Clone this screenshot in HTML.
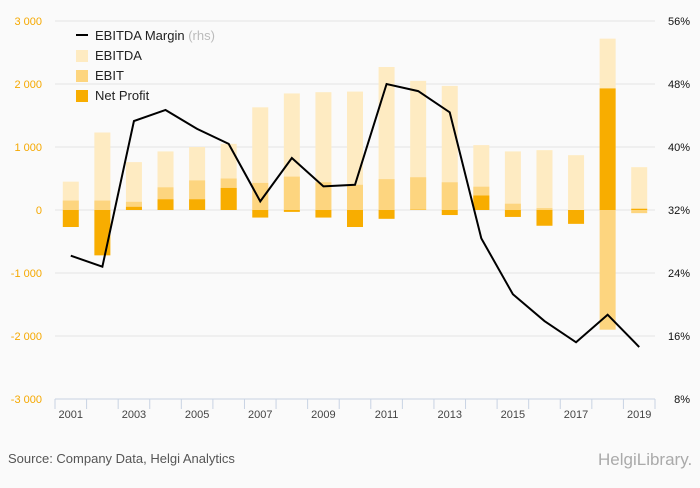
<!DOCTYPE html>
<html><head><meta charset="utf-8"><style>
body{margin:0;width:700px;height:483px;background:#fafafa;font-family:"Liberation Sans",sans-serif;overflow:hidden}
svg text{font-family:"Liberation Sans",sans-serif}
</style></head><body>
<svg id="chart" width="700" height="483" xmlns="http://www.w3.org/2000/svg">
<rect width="700" height="483" fill="#fafafa"/>
<g id="grid"></g><g id="bars"></g><g id="line"></g><g id="axes"></g>
<g font-size="13" fill="#222">
<line x1="76" y1="35" x2="88" y2="35" stroke="#000" stroke-width="2"/>
<text x="95" y="40">EBITDA Margin <tspan fill="#bbb">(rhs)</tspan></text>
<rect x="76" y="50" width="12" height="12" fill="#feebc2"/><text x="95" y="60">EBITDA</text>
<rect x="76" y="70" width="12" height="12" fill="#fdd57f"/><text x="95" y="80">EBIT</text>
<rect x="76" y="90" width="12" height="12" fill="#f8ad00"/><text x="95" y="100">Net Profit</text>
</g>
<text x="8" y="463" font-size="13" fill="#555">Source: Company Data, Helgi Analytics</text>
<text x="598" y="465" font-size="17" fill="#aaa" font-family="Liberation Serif">HelgiLibrary.</text>
</svg>
<script>
const years=[2001,2002,2003,2004,2005,2006,2007,2008,2009,2010,2011,2012,2013,2014,2015,2016,2017,2018,2019];
const ebitda=[450,1230,760,930,1000,1050,1630,1850,1870,1880,2270,2050,1970,1030,930,950,870,2720,680];
const ebit=[150,150,130,360,470,500,430,530,440,400,490,520,440,370,100,30,-20,-1900,-50];
const netProfit=[-270,-720,50,170,170,350,-120,-30,-120,-270,-140,5,-80,230,-110,-250,-220,1930,20];
const margin=[26.2,24.8,43.3,44.7,42.3,40.4,33.1,38.6,35.0,35.2,48.0,47.1,44.4,28.4,21.3,17.9,15.2,18.7,14.6];
const leftTicks=[-3000,-2000,-1000,0,1000,2000,3000];
const leftLabels=["-3 000","-2 000","-1 000","0","1 000","2 000","3 000"];
const rightTicks=[8,16,24,32,40,48,56];
const x0=55,x1=655,yT=21,yB=399;
const step=(x1-x0)/years.length;
const xC=i=>x0+step*(i+0.5);
const yL=v=>yT+(3000-v)/6000*(yB-yT);
const yR=v=>yT+(56-v)/48*(yB-yT);
const NS="http://www.w3.org/2000/svg";
function mk(t,a,p){const e=document.createElementNS(NS,t);for(const k in a)e.setAttribute(k,a[k]);p.appendChild(e);return e;}
const grid=document.getElementById('grid'),bars=document.getElementById('bars'),line=document.getElementById('line'),axes=document.getElementById('axes');
leftTicks.forEach((v,i)=>{
 if(v!==-3000){const g=mk('line',{x1:x0,x2:x1,y1:yL(v),y2:yL(v),stroke:'#e4e4e4'},grid);
 
 }
 const t=mk('text',{x:42,y:yL(v)+4,'text-anchor':'end','font-size':11,fill:'#f5a800'},axes);t.textContent=leftLabels[i];
 
 
});
rightTicks.forEach(v=>{const t=mk('text',{x:690,y:yR(v)+4,'text-anchor':'end','font-size':11,fill:'#111'},axes);t.textContent=v+'%';
 
 });
const ax=mk('line',{x1:x0,x2:x1,y1:yB,y2:yB,stroke:'#c8d3e3'},axes);


for(let i=0;i<=years.length;i++){const tk=mk('line',{x1:x0+step*i,x2:x0+step*i,y1:yB,y2:yB+10,stroke:'#c8d3e3'},axes);
 
 }
years.forEach((y,i)=>{if(i%2==0){const t=mk('text',{x:xC(i),y:418,'text-anchor':'middle','font-size':11,fill:'#444'},axes);t.textContent=y;
 
 }});
const bw=16;
function bar(i,v,c,n){const y=Math.min(yL(v),yL(0)),h=Math.abs(yL(v)-yL(0));const r=mk('rect',{x:xC(i)-bw/2,y:y,width:bw,height:h,fill:c},bars);
 
 }
years.forEach((y,i)=>{bar(i,ebitda[i],'#feebc2','ebitda');bar(i,ebit[i],'#fdd57f','ebit');bar(i,netProfit[i],'#f8ad00','net-profit');});
const pl=mk('polyline',{points:margin.map((v,i)=>xC(i)+','+yR(v)).join(' '),fill:'none',stroke:'#000','stroke-width':2},line);


</script>
</body></html>
